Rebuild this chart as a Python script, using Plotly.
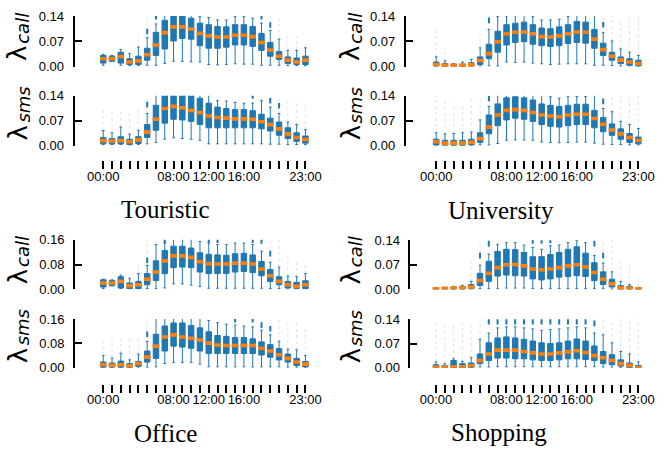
import plotly.graph_objects as go

W, H = 668, 460
hours = list(range(24))
tick_labels = ["00:00" if h == 0 else "08:00" if h == 8 else "12:00" if h == 12
               else "16:00" if h == 16 else "23:00" if h == 23 else "" for h in hours]
N = None

# ---------------- Touristic ----------------
tour_call_q1 = [0.010,0.015,0.010,0.006,0.006,0.018,0.031,0.049,0.071,0.078,0.076,0.058,0.051,0.051,0.054,0.060,0.060,0.056,0.045,0.029,0.020,0.009,0.006,0.006]
tour_call_med = [0.022,0.022,0.028,0.013,0.016,0.033,0.060,0.094,0.110,0.110,0.104,0.092,0.085,0.082,0.082,0.087,0.087,0.083,0.067,0.046,0.029,0.018,0.013,0.018]
tour_call_q3 = [0.031,0.029,0.040,0.022,0.029,0.051,0.095,0.128,0.150,0.150,0.134,0.120,0.116,0.111,0.110,0.116,0.116,0.111,0.092,0.067,0.042,0.027,0.024,0.029]
tour_call_lo = [0.004,0.014,0.004,0.003,0.003,0.004,0.004,0.009,0.015,0.015,0.013,0.013,0.006,0.005,0.006,0.008,0.007,0.007,0.004,0.004,0.004,0.003,0.003,0.003]
tour_call_hi = [0.034,0.031,0.047,0.036,0.054,0.080,0.118,0.150,0.150,0.150,0.150,0.138,0.136,0.129,0.129,0.138,0.138,0.134,0.120,0.100,0.076,0.045,0.045,0.052]
tour_call_fl = [N,N,N,N,0.090,0.140,0.140,N,N,N,N,N,N,N,N,N,N,N,0.140,0.140,0.140,0.095,0.085,0.070]
tour_call_bl = [N,N,N,N,N,0.097,0.138,N,N,N,N,N,N,N,N,N,N,N,0.138,0.115,N,N,N,N]

tour_sms_q1 = [0.005,0.005,0.005,0.003,0.006,0.023,0.043,0.063,0.074,0.072,0.068,0.059,0.050,0.050,0.050,0.050,0.050,0.050,0.047,0.041,0.029,0.020,0.012,0.007]
tour_sms_med = [0.014,0.013,0.014,0.011,0.016,0.038,0.074,0.104,0.110,0.106,0.099,0.093,0.083,0.079,0.077,0.075,0.075,0.074,0.067,0.059,0.047,0.033,0.023,0.017]
tour_sms_q3 = [0.023,0.020,0.025,0.018,0.025,0.059,0.113,0.145,0.150,0.150,0.145,0.133,0.119,0.108,0.104,0.101,0.101,0.098,0.088,0.077,0.066,0.050,0.036,0.027]
tour_sms_lo = [0.003,0.003,0.003,0.002,0.003,0.005,0.009,0.018,0.022,0.020,0.018,0.015,0.005,0.005,0.005,0.005,0.005,0.005,0.005,0.004,0.004,0.003,0.003,0.003]
tour_sms_hi = [0.042,0.036,0.052,0.032,0.043,0.090,0.150,0.150,0.150,0.150,0.150,0.150,0.150,0.126,0.125,0.121,0.119,0.119,0.126,0.108,0.090,0.066,0.059,0.045]
tour_sms_fl = [0.110,0.100,0.100,0.100,0.110,0.140,N,N,N,N,N,N,N,N,N,N,N,0.140,0.140,0.140,0.140,0.130,0.125,0.115]
tour_sms_bl = [N,N,N,N,N,0.115,N,N,N,N,N,N,N,N,N,N,N,0.139,N,0.126,0.112,N,N,N]

# ---------------- University ----------------
uni_call_q1 = [0.002,0.002,0.002,0.001,0.002,0.006,0.022,0.040,0.060,0.067,0.069,0.062,0.058,0.056,0.058,0.064,0.067,0.065,0.051,0.031,0.018,0.009,0.004,0.002]
uni_call_med = [0.006,0.004,0.004,0.004,0.005,0.017,0.036,0.069,0.091,0.095,0.096,0.091,0.083,0.082,0.085,0.091,0.096,0.095,0.076,0.047,0.029,0.018,0.013,0.009]
uni_call_q3 = [0.013,0.009,0.007,0.007,0.011,0.027,0.062,0.098,0.116,0.120,0.123,0.116,0.107,0.105,0.110,0.116,0.125,0.123,0.103,0.065,0.040,0.027,0.022,0.018]
uni_call_lo = [0.001,0.001,0.001,0.001,0.001,0.002,0.002,0.002,0.013,0.012,0.013,0.010,0.008,0.006,0.007,0.008,0.008,0.008,0.004,0.004,0.003,0.002,0.002,0.002]
uni_call_hi = [0.027,0.016,0.009,0.013,0.020,0.052,0.103,0.138,0.140,0.150,0.150,0.138,0.129,0.129,0.131,0.138,0.150,0.150,0.150,0.094,0.071,0.049,0.040,0.031]
uni_call_fl = [0.110,0.050,N,N,N,0.095,0.140,N,N,N,N,N,N,N,N,N,N,N,N,0.140,0.140,0.130,0.140,0.140]
uni_call_bl = [N,N,N,N,N,N,0.128,N,N,N,N,N,N,N,N,N,N,N,N,0.116,N,N,N,N]

uni_sms_q1 = [0.002,0.001,0.001,0.001,0.002,0.009,0.033,0.056,0.072,0.077,0.074,0.068,0.059,0.054,0.052,0.056,0.059,0.059,0.050,0.039,0.029,0.018,0.009,0.005]
uni_sms_med = [0.011,0.007,0.007,0.007,0.009,0.020,0.052,0.086,0.099,0.101,0.099,0.093,0.086,0.083,0.081,0.086,0.088,0.088,0.076,0.060,0.044,0.033,0.023,0.015]
uni_sms_q3 = [0.018,0.015,0.015,0.015,0.018,0.036,0.086,0.117,0.134,0.137,0.134,0.128,0.117,0.113,0.110,0.113,0.116,0.116,0.099,0.079,0.061,0.047,0.034,0.024]
uni_sms_lo = [0.001,0.001,0.001,0.001,0.001,0.002,0.002,0.006,0.015,0.016,0.016,0.015,0.010,0.009,0.008,0.009,0.010,0.010,0.007,0.004,0.003,0.003,0.002,0.002]
uni_sms_hi = [0.036,0.033,0.034,0.036,0.038,0.072,0.110,0.150,0.150,0.150,0.150,0.150,0.150,0.137,0.133,0.137,0.138,0.138,0.150,0.104,0.095,0.068,0.059,0.048]
uni_sms_fl = [0.140,0.130,0.120,0.120,0.130,0.140,0.140,N,N,N,N,N,N,N,N,N,N,N,N,0.140,0.140,0.140,0.140,0.140]
uni_sms_bl = [N,N,N,N,N,N,0.132,N,N,N,N,N,N,N,N,N,N,N,N,0.124,N,N,N,N]

# ---------------- Office ----------------
off_call_q1 = [0.008,0.012,0.005,0.003,0.003,0.015,0.029,0.051,0.070,0.072,0.070,0.056,0.051,0.051,0.051,0.056,0.058,0.054,0.044,0.026,0.015,0.005,0.003,0.003]
off_call_med = [0.021,0.021,0.026,0.012,0.015,0.033,0.056,0.092,0.108,0.108,0.103,0.089,0.083,0.082,0.082,0.084,0.084,0.082,0.066,0.044,0.026,0.015,0.010,0.015]
off_call_q3 = [0.031,0.029,0.041,0.021,0.026,0.051,0.092,0.125,0.139,0.139,0.133,0.118,0.113,0.111,0.110,0.115,0.116,0.111,0.090,0.064,0.041,0.026,0.023,0.028]
off_call_lo = [0.003,0.012,0.003,0.002,0.002,0.003,0.003,0.005,0.018,0.018,0.014,0.010,0.004,0.004,0.004,0.004,0.004,0.004,0.004,0.003,0.003,0.002,0.002,0.002]
off_call_hi = [0.033,0.031,0.046,0.036,0.051,0.077,0.144,0.150,0.165,0.165,0.165,0.154,0.149,0.144,0.144,0.149,0.149,0.144,0.123,0.087,0.072,0.043,0.041,0.051]
off_call_fl = [N,N,N,N,0.080,0.160,0.160,N,N,N,N,N,N,N,N,N,N,N,N,0.160,0.160,0.110,0.100,0.090]
off_call_bl = [N,N,N,N,N,0.094,N,0.156,N,N,N,N,0.158,0.158,N,N,N,0.158,0.156,0.115,N,N,N,N]

off_sms_q1 = [0.002,0.002,0.002,0.002,0.005,0.019,0.031,0.055,0.071,0.068,0.064,0.055,0.047,0.047,0.047,0.047,0.047,0.047,0.042,0.035,0.026,0.019,0.008,0.003]
off_sms_med = [0.010,0.008,0.010,0.007,0.014,0.035,0.071,0.101,0.108,0.101,0.097,0.091,0.081,0.075,0.073,0.073,0.073,0.073,0.064,0.055,0.043,0.031,0.019,0.012]
off_sms_q3 = [0.019,0.016,0.022,0.014,0.021,0.055,0.110,0.137,0.147,0.147,0.139,0.131,0.118,0.106,0.103,0.099,0.099,0.095,0.085,0.076,0.063,0.045,0.031,0.021]
off_sms_lo = [0.001,0.001,0.001,0.001,0.002,0.002,0.003,0.014,0.018,0.018,0.018,0.012,0.003,0.003,0.003,0.003,0.003,0.003,0.003,0.003,0.003,0.002,0.002,0.002]
off_sms_hi = [0.040,0.032,0.048,0.026,0.045,0.087,0.165,0.165,0.165,0.165,0.165,0.165,0.155,0.148,0.143,0.140,0.137,0.134,0.123,0.108,0.087,0.061,0.059,0.040]
off_sms_fl = [0.100,0.100,0.100,0.100,0.100,0.160,N,N,N,N,N,N,N,N,N,N,N,N,0.160,0.160,0.160,0.160,0.150,0.140]
off_sms_bl = [N,N,N,N,N,0.110,N,N,N,N,N,N,N,N,N,0.158,N,0.158,0.140,0.128,N,N,N,N]

# ---------------- Shopping ----------------
shop_call_q1 = [0.001,0.001,0.001,0.001,0.002,0.011,0.023,0.038,0.041,0.039,0.038,0.030,0.027,0.030,0.035,0.037,0.039,0.037,0.025,0.014,0.007,0.001,0.001,0.001]
shop_call_med = [0.002,0.003,0.004,0.005,0.007,0.025,0.046,0.062,0.070,0.071,0.067,0.058,0.056,0.058,0.062,0.067,0.070,0.064,0.048,0.029,0.016,0.005,0.003,0.002]
shop_call_q3 = [0.005,0.005,0.007,0.009,0.014,0.046,0.080,0.108,0.114,0.113,0.105,0.093,0.093,0.099,0.105,0.114,0.121,0.103,0.076,0.050,0.029,0.011,0.009,0.005]
shop_call_lo = [0.000,0.000,0.000,0.000,0.001,0.002,0.002,0.002,0.004,0.004,0.004,0.003,0.003,0.003,0.003,0.003,0.003,0.003,0.003,0.002,0.001,0.000,0.000,0.000]
shop_call_hi = [0.006,0.006,0.009,0.012,0.023,0.069,0.100,0.128,0.133,0.133,0.126,0.119,0.114,0.124,0.126,0.133,0.139,0.133,0.096,0.075,0.050,0.023,0.014,0.006]
shop_call_fl = [N,N,N,N,0.080,0.140,0.140,N,N,N,N,N,N,N,N,N,N,N,0.140,0.140,0.140,0.080,0.070,0.040]
shop_call_bl = [N,N,N,N,N,0.096,0.130,N,N,N,N,0.138,0.138,0.139,N,N,N,N,0.130,0.096,N,N,N,N]

shop_sms_q1 = [0.000,0.000,0.000,0.000,0.000,0.012,0.021,0.028,0.028,0.026,0.026,0.023,0.021,0.021,0.023,0.026,0.026,0.024,0.021,0.012,0.009,0.005,0.000,0.000]
shop_sms_med = [0.002,0.002,0.003,0.003,0.006,0.021,0.040,0.051,0.051,0.051,0.047,0.043,0.040,0.040,0.043,0.046,0.049,0.044,0.035,0.029,0.021,0.012,0.007,0.001]
shop_sms_q3 = [0.009,0.007,0.021,0.012,0.014,0.040,0.072,0.086,0.089,0.086,0.082,0.077,0.072,0.070,0.072,0.077,0.083,0.077,0.063,0.047,0.038,0.023,0.014,0.007]
shop_sms_lo = [0.000,0.000,0.000,0.000,0.000,0.002,0.002,0.003,0.003,0.003,0.003,0.003,0.003,0.003,0.003,0.003,0.003,0.003,0.003,0.002,0.002,0.001,0.000,0.000]
shop_sms_hi = [0.017,0.012,0.026,0.019,0.029,0.082,0.100,0.115,0.118,0.118,0.115,0.112,0.108,0.110,0.112,0.115,0.118,0.115,0.100,0.095,0.072,0.047,0.040,0.017]
shop_sms_fl = [0.130,0.130,0.130,0.130,0.130,0.140,N,N,N,N,N,N,N,N,N,N,N,N,0.140,0.140,0.140,0.140,0.140,0.140]
shop_sms_bl = [N,N,N,N,N,N,0.133,0.133,0.133,0.133,0.133,0.133,0.133,0.133,0.133,0.133,0.133,0.133,0.128,N,N,N,N,N]

panel_names = ["Touristic", "University", "Office", "Shopping"]
series_words = ["call", "sms"]

series = [
    (tour_call_q1, tour_call_med, tour_call_q3, tour_call_lo, tour_call_hi, tour_call_fl, tour_call_bl),
    (tour_sms_q1, tour_sms_med, tour_sms_q3, tour_sms_lo, tour_sms_hi, tour_sms_fl, tour_sms_bl),
    (uni_call_q1, uni_call_med, uni_call_q3, uni_call_lo, uni_call_hi, uni_call_fl, uni_call_bl),
    (uni_sms_q1, uni_sms_med, uni_sms_q3, uni_sms_lo, uni_sms_hi, uni_sms_fl, uni_sms_bl),
    (off_call_q1, off_call_med, off_call_q3, off_call_lo, off_call_hi, off_call_fl, off_call_bl),
    (off_sms_q1, off_sms_med, off_sms_q3, off_sms_lo, off_sms_hi, off_sms_fl, off_sms_bl),
    (shop_call_q1, shop_call_med, shop_call_q3, shop_call_lo, shop_call_hi, shop_call_fl, shop_call_bl),
    (shop_sms_q1, shop_sms_med, shop_sms_q3, shop_sms_lo, shop_sms_hi, shop_sms_fl, shop_sms_bl),
]
y_max = [0.14, 0.14, 0.16, 0.14]
y_ticks = [[0, 0.07, 0.14], [0, 0.07, 0.14], [0, 0.08, 0.16], [0, 0.07, 0.14]]

# geometry in pixels: (x_left, x_right, x_min, call_top, call_bot, sms_top, sms_bot, tick_y, title_x, title_y, ylab_x)
geom = [
    (76.0, 315.5, -3.25, 9.3, 61.7, 91.7, 143.3, 158.3, 169, 209, 18),
    (413.3, 654.5, -3.45, 9.3, 61.7, 91.7, 143.3, 158.3, 510, 210, 357),
    (76.5, 315.5, -3.20, 240.5, 292.0, 322.5, 373.0, 389.5, 169, 441, 18),
    (418.0, 654.5, -2.90, 241.0, 292.0, 322.7, 373.0, 389.5, 508, 440, 357),
]

BLUE = "#1f77b4"
ORANGE = "#ff7f0e"
fig = go.Figure()
layout = dict(width=W, height=H, margin=dict(l=0, r=0, t=0, b=0),
              paper_bgcolor="white", plot_bgcolor="white", showlegend=False,
              font=dict(family="Liberation Sans, Arial, sans-serif", size=13, color="black"))
annotations = []

for p in range(4):
    xl, xr, xmin, ct, cb, st, sb, ty, tx, tty, ylx = geom[p]
    for k in range(2):
        idx = 2 * p + k + 1
        q1, med, q3, lo, hi, fl, bl = series[2 * p + k]
        xa = "x" if idx == 1 else f"x{idx}"
        ya = "y" if idx == 1 else f"y{idx}"
        # faint flier columns
        fx, fy = [], []
        for h in hours:
            if fl[h] is not None and fl[h] > min(hi[h], y_max[p]):
                fx += [h, h, None]
                fy += [min(hi[h], y_max[p]), fl[h], None]
        fig.add_trace(go.Scatter(x=fx, y=fy, mode="lines", xaxis=xa, yaxis=ya,
                                 line=dict(color="rgba(120,120,120,0.22)", width=1, dash="dot"),
                                 hoverinfo="skip"))
        fig.add_trace(go.Box(x=hours, q1=q1, median=med, q3=q3, lowerfence=lo, upperfence=hi,
                             orientation="v", xaxis=xa, yaxis=ya, boxpoints=False,
                             width=0.62, whiskerwidth=0.5, fillcolor=BLUE,
                             line=dict(color=BLUE, width=1)))
        fig.add_trace(go.Scatter(x=hours, y=med, mode="markers", xaxis=xa, yaxis=ya,
                                 marker=dict(symbol="line-ew", size=4.8,
                                             line=dict(color=ORANGE, width=3.6))))
        bx = [h for h in hours if bl[h] is not None]
        by = [bl[h] for h in hours if bl[h] is not None]
        fig.add_trace(go.Scatter(x=bx, y=by, mode="markers", xaxis=xa, yaxis=ya,
                                 marker=dict(symbol="line-ns", size=4,
                                             line=dict(color=BLUE, width=2))))
        top, bot = (ct, cb) if k == 0 else (st, sb)
        xkey = "xaxis" if idx == 1 else f"xaxis{idx}"
        ykey = "yaxis" if idx == 1 else f"yaxis{idx}"
        xdict = dict(domain=[xl / W, xr / W], range=[xmin, 23.5], showgrid=False,
                     zeroline=False, showline=False, fixedrange=True)
        if k == 0:
            xdict.update(visible=False, anchor=ya)
        else:
            xdict.update(anchor="free", position=1 - ty / H, side="bottom",
                         tickmode="array", tickvals=hours, ticktext=tick_labels,
                         ticks="outside", ticklen=8, tickwidth=2, tickcolor="black",
                         tickfont=dict(size=13), ticklabelstandoff=-4)
        layout[xkey] = xdict
        layout[ykey] = dict(domain=[1 - bot / H, 1 - top / H], range=[0, y_max[p]],
                            anchor=xa, showgrid=False, zeroline=False,
                            showline=True, linecolor="black", linewidth=2,
                            ticks="inside", ticklen=7, tickwidth=2, tickcolor="black",
                            tickmode="array", tickvals=y_ticks[p],
                            ticktext=[f"{v:.2f}" for v in y_ticks[p]],
                            tickfont=dict(size=13), ticklabelstandoff=6, fixedrange=True)
        mid = (top + bot) / 2
        # lambda symbol and italic subscript word, rotated
        annotations.append(dict(text="λ", xref="paper", yref="paper", x=ylx / W,
                                y=1 - (mid + 12.5) / H, xanchor="center",
                                yanchor="middle", textangle=-90, showarrow=False,
                                font=dict(family="DejaVu Sans", size=26, color="black")))
        annotations.append(dict(text="<i>" + series_words[k] + "</i>", xref="paper", yref="paper",
                                x=(ylx + 5) / W, y=1 - (mid + 4.5) / H, xanchor="center",
                                yanchor="bottom", textangle=-90, showarrow=False,
                                font=dict(family="DejaVu Sans", size=18, color="black")))
    annotations.append(dict(text=panel_names[p], xref="paper", yref="paper", x=tx / W,
                            y=1 - tty / H, xanchor="center", yanchor="middle",
                            showarrow=False,
                            font=dict(family="Liberation Serif, serif", size=25, color="black")))

layout["annotations"] = annotations
fig.update_layout(**layout)
fig.write_html("out.html")
